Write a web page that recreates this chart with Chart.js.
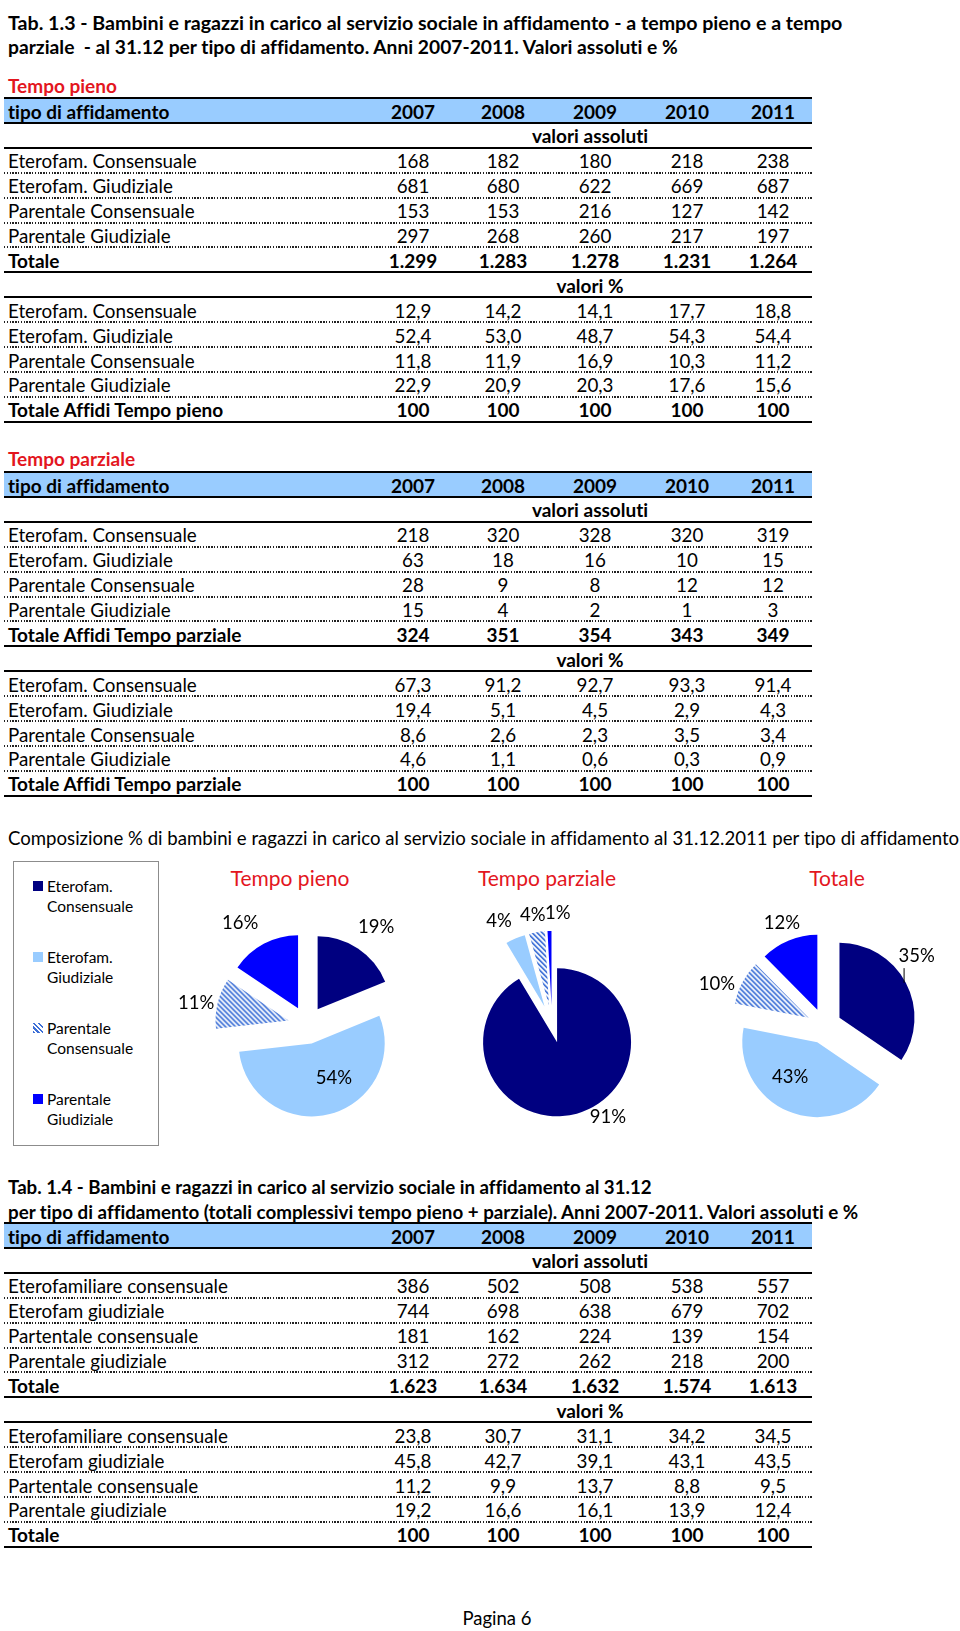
<!DOCTYPE html>
<html>
<head>
<meta charset="utf-8">
<script src="https://cdn.jsdelivr.net/npm/chart.js@4.4.1/dist/chart.umd.min.js"></script>
<style>
  body { margin: 0; background: #fff; }
  #page { position: relative; width: 960px; height: 1631px; overflow: hidden; font-family: Lato, "Open Sans", sans-serif; color: #000; font-variant-ligatures: none; }
  .t { position: absolute; white-space: pre; }
  .line { position: absolute; }
  canvas { position: absolute; }
  #legend { position: absolute; left: 13px; top: 861px; width: 144px; height: 283px; border: 1px solid #8c8c8c; }
  .sw { position: absolute; width: 10px; height: 10px; }
</style>
</head>
<body>
<div id="page"></div>
<script>
// ---- data ----
const years = ["2007", "2008", "2009", "2010", "2011"];
const rowNames13 = ["Eterofam. Consensuale", "Eterofam. Giudiziale", "Parentale Consensuale", "Parentale Giudiziale"];
const rowNames14 = ["Eterofamiliare consensuale", "Eterofam giudiziale", "Partentale consensuale", "Parentale giudiziale"];

const pienoAbs = [[168, 182, 180, 218, 238], [681, 680, 622, 669, 687], [153, 153, 216, 127, 142], [297, 268, 260, 217, 197]];
const pienoAbsTot = [1299, 1283, 1278, 1231, 1264];
const pienoPct = [[12.9, 14.2, 14.1, 17.7, 18.8], [52.4, 53.0, 48.7, 54.3, 54.4], [11.8, 11.9, 16.9, 10.3, 11.2], [22.9, 20.9, 20.3, 17.6, 15.6]];
const pienoPctTot = [100, 100, 100, 100, 100];

const parzAbs = [[218, 320, 328, 320, 319], [63, 18, 16, 10, 15], [28, 9, 8, 12, 12], [15, 4, 2, 1, 3]];
const parzAbsTot = [324, 351, 354, 343, 349];
const parzPct = [[67.3, 91.2, 92.7, 93.3, 91.4], [19.4, 5.1, 4.5, 2.9, 4.3], [8.6, 2.6, 2.3, 3.5, 3.4], [4.6, 1.1, 0.6, 0.3, 0.9]];
const parzPctTot = [100, 100, 100, 100, 100];

const totAbs = [[386, 502, 508, 538, 557], [744, 698, 638, 679, 702], [181, 162, 224, 139, 154], [312, 272, 262, 218, 200]];
const totAbsTot = [1623, 1634, 1632, 1574, 1613];
const totPct = [[23.8, 30.7, 31.1, 34.2, 34.5], [45.8, 42.7, 39.1, 43.1, 43.5], [11.2, 9.9, 13.7, 8.8, 9.5], [19.2, 16.6, 16.1, 13.9, 12.4]];
const totPctTot = [100, 100, 100, 100, 100];

const pieCategories = ["Eterofam. Consensuale", "Eterofam. Giudiziale", "Parentale Consensuale", "Parentale Giudiziale"];
const pienoPieText = ["19%", "54%", "11%", "16%"];
const parzPieText = ["91%", "4%", "4%", "1%"];
const totPieText = ["35%", "43%", "10%", "12%"];

// ---- layout ----
const R = 24.9;
const TL = 4, TR = 812;
const colX = [413, 503, 595, 687, 773];
const midX = 590;
const RED = "#e3161e";
const page = document.getElementById("page");

function fmtInt(n) { return String(n).replace(/\B(?=(\d{3})+(?!\d))/g, "."); }
function fmtPct(v) { return v.toFixed(1).replace(".", ","); }

function addText(str, x, top, o = {}) {
  const d = document.createElement("div");
  d.className = "t";
  d.textContent = str;
  d.style.left = x + "px";
  d.style.top = (top + 1.5) + "px";
  d.style.height = R + "px";
  d.style.lineHeight = R + "px";
  const size = o.size || (o.bold ? 19 : 18.8);
  d.style.fontSize = size + "px";
  if (o.bold) d.style.fontWeight = "bold";
  if (o.color) d.style.color = o.color;
  if (o.center) d.style.transform = "translateX(-50%)";
  page.appendChild(d);
  if (o.fit) {
    const w = d.getBoundingClientRect().width;
    d.style.fontSize = (size * o.fit / w) + "px";
  }
  return d;
}

function hline(y, kind) {
  const d = document.createElement("div");
  d.className = "line";
  d.style.left = TL + "px";
  d.style.width = (TR - TL) + "px";
  d.style.top = (y - 1) + "px";
  d.style.height = "2px";
  d.style.background = kind === "solid"
    ? "#000"
    : "repeating-linear-gradient(to right, #222 0 1.4px, transparent 1.4px 2.8px)";
  page.appendChild(d);
}

function block(band, names, abs, absTot, absTotLabel, pct, pctTot, pctTotLabel) {
  const bg = document.createElement("div");
  bg.className = "line";
  bg.style.left = TL + "px";
  bg.style.width = (TR - TL) + "px";
  bg.style.top = band + "px";
  bg.style.height = R + "px";
  bg.style.background = "#99ccff";
  page.appendChild(bg);
  addText("tipo di affidamento", 8, band, { bold: true });
  years.forEach((y, i) => addText(y, colX[i], band, { bold: true, center: true }));
  hline(band, "solid");
  hline(band + R, "solid");

  addText("valori assoluti", midX, band + R, { bold: true, center: true });
  hline(band + 2 * R, "solid");
  names.forEach((n, r) => {
    const top = band + (2 + r) * R;
    addText(n, 8, top);
    abs[r].forEach((v, i) => addText(fmtInt(v), colX[i], top, { center: true }));
    hline(top + R, "dot");
  });
  let top = band + 6 * R;
  addText(absTotLabel, 8, top, { bold: true });
  absTot.forEach((v, i) => addText(fmtInt(v), colX[i], top, { bold: true, center: true }));
  hline(top + R, "solid");

  addText("valori %", midX, band + 7 * R, { bold: true, center: true });
  hline(band + 8 * R, "solid");
  names.forEach((n, r) => {
    const t = band + (8 + r) * R;
    addText(n, 8, t);
    pct[r].forEach((v, i) => addText(fmtPct(v), colX[i], t, { center: true }));
    hline(t + R, "dot");
  });
  top = band + 12 * R;
  addText(pctTotLabel, 8, top, { bold: true });
  pctTot.forEach((v, i) => addText(fmtInt(v), colX[i], top, { bold: true, center: true }));
  hline(top + R, "solid");
}

// Tab 1.3
const band1 = 98, band2 = 472, band3 = 1223;
addText("Tab. 1.3 - Bambini e ragazzi in carico al servizio sociale in affidamento - a tempo pieno e a tempo", 8, band1 - 3.5 * R - 1, { bold: true, fit: 835 });
addText("parziale  - al 31.12 per tipo di affidamento. Anni 2007-2011. Valori assoluti e %", 8, band1 - 2.5 * R - 2, { bold: true, fit: 670 });
addText("Tempo pieno", 8, band1 - R - 1, { bold: true, color: RED });
block(band1, rowNames13, pienoAbs, pienoAbsTot, "Totale", pienoPct, pienoPctTot, "Totale Affidi Tempo pieno");
addText("Tempo parziale", 8, band2 - R - 2, { bold: true, color: RED });
block(band2, rowNames13, parzAbs, parzAbsTot, "Totale Affidi Tempo parziale", parzPct, parzPctTot, "Totale Affidi Tempo parziale");

// chart caption
addText("Composizione % di bambini e ragazzi in carico al servizio sociale in affidamento al 31.12.2011 per tipo di affidamento", 8, 838 - R / 2 - 1.5, { fit: 951 });

// Tab 1.4
addText("Tab. 1.4 - Bambini e ragazzi in carico al servizio sociale in affidamento al 31.12", 8, band3 - 2 * R, { bold: true, fit: 644 });
addText("per tipo di affidamento (totali complessivi tempo pieno + parziale). Anni 2007-2011. Valori assoluti e %", 8, band3 - R, { bold: true, fit: 851 });
block(band3, rowNames14, totAbs, totAbsTot, "Totale", totPct, totPctTot, "Totale");

addText("Pagina 6", 497, 1618 - R / 2 - 1.5, { center: true, size: 18.5 });

// ---- pies ----
const NAVY = "#000080", LIGHT = "#99ccff", BLUE = "#0000ff";

function stripePattern() {
  const c = document.createElement("canvas");
  c.width = 5; c.height = 5;
  const g = c.getContext("2d");
  const img = g.createImageData(5, 5);
  for (let y = 0; y < 5; y++) for (let x = 0; x < 5; x++) {
    const k = ((x - y) % 5 + 5) % 5;
    const p = (y * 5 + x) * 4;
    let col = [255, 255, 255];
    if (k === 0 || k === 1) col = [61, 111, 214];
    else if (k === 2) col = [170, 195, 238];
    img.data[p] = col[0]; img.data[p + 1] = col[1]; img.data[p + 2] = col[2]; img.data[p + 3] = 255;
  }
  g.putImageData(img, 0, 0);
  return g.createPattern(c, "repeat");
}

// pushes each slice out along its middle angle
const explodePlugin = {
  id: "explode",
  beforeDatasetsDraw(chart, args, opts) {
    const d = opts.distance || 0;
    chart.getSortedVisibleDatasetMetas().forEach(meta => {
      meta.data.forEach(arc => {
        if (arc._exploded) return;
        const orig = arc.draw;
        arc.draw = function (ctx, area) {
          const mid = (this.startAngle + this.endAngle) / 2;
          ctx.save();
          ctx.translate(Math.cos(mid) * d, Math.sin(mid) * d);
          orig.call(this, ctx, area);
          ctx.restore();
        };
        arc._exploded = true;
      });
    });
  }
};

// percentage labels placed from the slice angles
const pctLabelPlugin = {
  id: "pctLabels",
  afterDatasetsDraw(chart, args, opts) {
    const ctx = chart.ctx;
    const meta = chart.getDatasetMeta(0);
    const ex = (chart.options.plugins.explode || {}).distance || 0;
    ctx.save();
    ctx.font = "18.5px Lato, 'Open Sans', sans-serif";
    ctx.fillStyle = "#000";
    ctx.textAlign = "center";
    ctx.textBaseline = "middle";
    meta.data.forEach((arc, i) => {
      const mid = (arc.startAngle + arc.endAngle) / 2;
      const a = mid + opts.turn[i] * Math.PI / 180;
      const x = arc.x + Math.cos(a) * opts.dist[i];
      const y = arc.y + Math.sin(a) * opts.dist[i];
      ctx.fillText(opts.texts[i], x, y);
      if (opts.leader === i) {
        const ecx = arc.x + Math.cos(mid) * ex, ecy = arc.y + Math.sin(mid) * ex;
        const lx = x - 13;
        const dy = Math.sqrt(Math.max(arc.outerRadius ** 2 - (lx - ecx) ** 2, 0));
        ctx.strokeStyle = "#000";
        ctx.lineWidth = 1;
        ctx.beginPath();
        ctx.moveTo(lx + 0.5, y + 12);
        ctx.lineTo(lx + 0.5, ecy - dy + 4);
        ctx.stroke();
      }
    });
    ctx.restore();
  }
};

function makePie(cx, cy, radius, explode, values, texts, dist, turn, leader) {
  const cv = document.createElement("canvas");
  cv.width = 260; cv.height = 260;
  cv.style.left = (cx - 130) + "px";
  cv.style.top = (cy - 130) + "px";
  page.appendChild(cv);
  return new Chart(cv.getContext("2d"), {
    type: "pie",
    data: {
      labels: pieCategories,
      datasets: [{
        data: values,
        backgroundColor: [NAVY, LIGHT, stripePattern(), BLUE],
        borderWidth: 0,
        hoverOffset: 0
      }]
    },
    options: {
      responsive: false,
      animation: false,
      events: [],
      radius: radius,
      layout: { padding: 0 },
      plugins: {
        legend: { display: false },
        tooltip: { enabled: false },
        explode: { distance: explode },
        pctLabels: { texts, dist, turn, leader }
      }
    },
    plugins: [explodePlugin, pctLabelPlugin]
  });
}

const col2011 = rows => rows.map(r => r[4]);
makePie(307, 1025, 73, 19, col2011(pienoAbs), pienoPieText, [120, 59.5, 113, 122], [1.3, -12.6, -2.7, -5.2], -1);
makePie(552, 1024, 74, 19, col2011(parzAbs), parzPieText, [108.6, 116, 110.6, 111], [-15.5, -3.9, -0.7, 4.5], -1);
makePie(824, 1026, 75, 17.5, col2011(totAbs), totPieText, [116, 61, 115, 111], [-9.2, 11.1, -6.8, 0], 0);

// pie titles
addText("Tempo pieno", 290, 878 - R / 2 - 1.5, { center: true, color: RED, size: 21 });
addText("Tempo parziale", 547, 878 - R / 2 - 1.5, { center: true, color: RED, size: 21 });
addText("Totale", 837, 878 - R / 2 - 1.5, { center: true, color: RED, size: 21 });

// legend
const legend = document.createElement("div");
legend.id = "legend";
page.appendChild(legend);
const swatches = [NAVY, LIGHT, "repeating-linear-gradient(45deg, #3d6fd6 0 1.6px, #fff 1.6px 3.4px)", BLUE];
const legendLines = [["Eterofam.", "Consensuale"], ["Eterofam.", "Giudiziale"], ["Parentale", "Consensuale"], ["Parentale", "Giudiziale"]];
legendLines.forEach((pair, i) => {
  const cy = 886 + i * 71;
  const sw = document.createElement("div");
  sw.className = "sw";
  sw.style.left = "33px";
  sw.style.top = (cy - 5) + "px";
  sw.style.background = swatches[i];
  page.appendChild(sw);
  addText(pair[0], 47, cy - R / 2 - 1.5, { size: 15.5 });
  addText(pair[1], 47, cy + 20.5 - R / 2 - 1.5, { size: 15.5 });
});
</script>
</body>
</html>
